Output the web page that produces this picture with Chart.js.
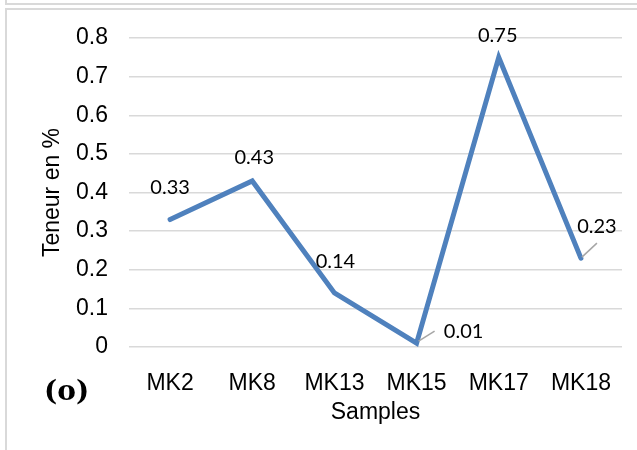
<!DOCTYPE html>
<html lang="en">
<head>
<meta charset="UTF-8">
<title>Teneur en %</title>
<script src="https://cdn.jsdelivr.net/npm/chart.js"></script>
<style>
  html, body { margin: 0; padding: 0; background: #fff; overflow: hidden; }
  .frame { position: absolute; border: 2px solid #d9d9d9; }
  #topFrame { left: 5px; top: -21px; width: 700px; height: 22px; }
  #mainFrame { left: 5px; top: 8px; width: 700px; height: 500px; }
  #wrap { position: absolute; left: 0; top: 0; width: 637px; height: 450px; }
  #tag { position: absolute; left: 44px; top: 374px; font: bold 28px "DejaVu Serif", serif; color: #000; }
</style>
</head>
<body>
<div class="frame" id="topFrame"></div>
<div class="frame" id="mainFrame"></div>
<div id="wrap"><canvas id="chart" width="637" height="450"></canvas></div>
<div id="tag">(o)</div>

<script>
// data
const samples = ['MK2', 'MK8', 'MK13', 'MK15', 'MK17', 'MK18'];
const teneur = [0.33, 0.43, 0.14, 0.01, 0.75, 0.23];
const yMin = 0, yMax = 0.8, yStep = 0.1;

// where each value label sits relative to its point (px)
const labelOffsets = [[0, -32], [2, -23], [1, -31], [47, -12], [-1, -22], [16, -32]];
// leader lines for labels pushed away from the point
const leaders = { 3: [[2, -2], [18, -12]], 5: [[1, -1], [16, -15]] };

const valueLabels = {
    id: 'valueLabels',
    afterDatasetsDraw(chart) {
        const ctx = chart.ctx;
        const meta = chart.getDatasetMeta(0);
        ctx.save();
        // leader lines
        ctx.strokeStyle = '#a6a6a6';
        ctx.lineWidth = 1.5;
        for (const i in leaders) {
            const p = meta.data[i];
            const l = leaders[i];
            ctx.beginPath();
            ctx.moveTo(p.x + l[0][0], p.y + l[0][1]);
            ctx.lineTo(p.x + l[1][0], p.y + l[1][1]);
            ctx.stroke();
        }
        ctx.fillStyle = '#000';
        ctx.font = '20px Lato, "Open Sans", sans-serif';
        ctx.textAlign = 'center';
        ctx.textBaseline = 'middle';
        meta.data.forEach((p, i) => {
            const off = labelOffsets[i];
            ctx.fillText(String(teneur[i]), p.x + off[0], p.y + off[1]);
        });
        ctx.restore();
    }
};

const axisFont = { family: '"Liberation Sans", Arial, sans-serif', size: 23 };

new Chart(document.getElementById('chart'), {
    type: 'line',
    data: {
        labels: samples,
        datasets: [{
            data: teneur,
            borderColor: '#4f81bd',
            borderWidth: 5,
            pointRadius: 0,
            pointHoverRadius: 0,
            tension: 0,
            borderJoinStyle: 'miter',
            borderCapStyle: 'round',
            fill: false
        }]
    },
    options: {
        responsive: false,
        animation: false,
        events: [],
        layout: { padding: { left: 0, top: 38, right: 15, bottom: 0 } },
        plugins: {
            legend: { display: false },
            tooltip: { enabled: false }
        },
        scales: {
            x: {
                offset: true,
                grid: { display: false },
                border: { display: false },
                ticks: { color: '#000', font: axisFont, padding: 15, maxRotation: 0 },
                title: { display: true, text: 'Samples', color: '#000', font: axisFont, padding: { top: 0, bottom: 24 } },
                afterFit(scale) { scale.height = 103; }
            },
            y: {
                min: yMin,
                max: yMax,
                grid: { color: '#d9d9d9', lineWidth: 1.5, drawTicks: false },
                border: { display: false },
                ticks: { stepSize: yStep, color: '#000', font: axisFont, padding: 21 },
                title: { display: true, text: 'Teneur en %', color: '#000', font: axisFont, padding: { top: 39, bottom: 0 } },
                afterFit(scale) { scale.width = 129; }
            }
        }
    },
    plugins: [valueLabels]
});
</script>
</body>
</html>
